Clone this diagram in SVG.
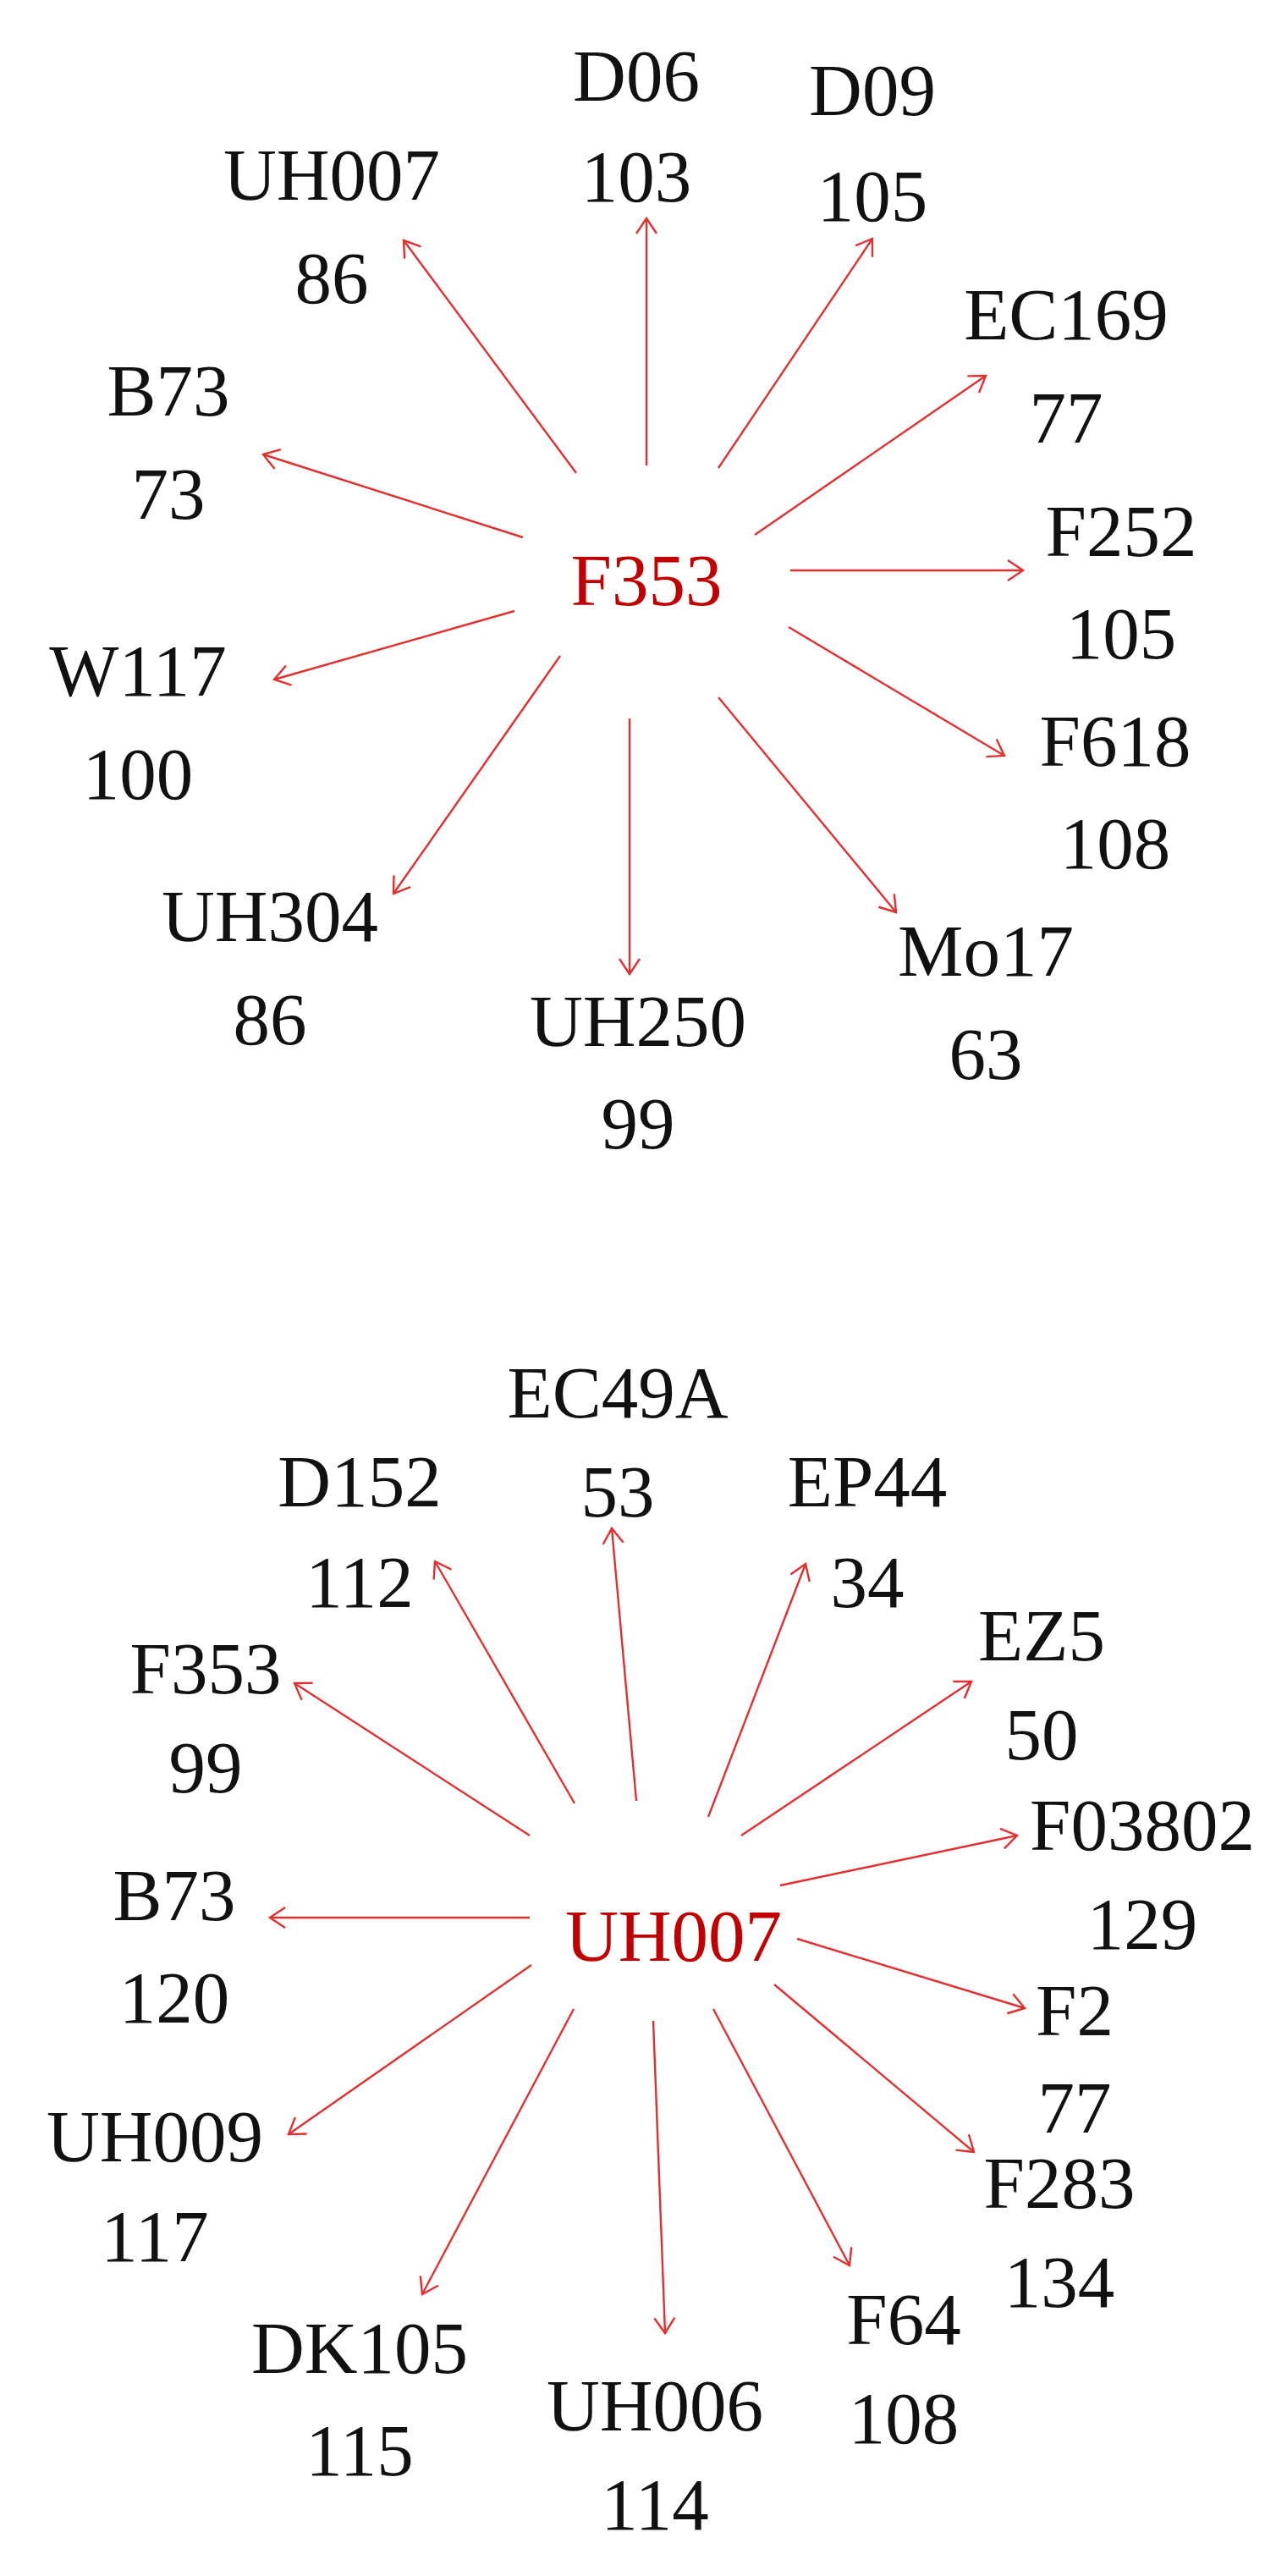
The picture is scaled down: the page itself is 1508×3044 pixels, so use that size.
<svg xmlns="http://www.w3.org/2000/svg" width="1508" height="3044" viewBox="0 0 1508 3044">
<style>
text{font-family:"Liberation Serif",serif;font-size:87px;text-anchor:middle;fill:#111}
text.c{fill:#c00000}
.e line{stroke:#e03030;stroke-width:2.4;marker-end:url(#a)}
</style>
<defs><marker id="a" markerUnits="userSpaceOnUse" markerWidth="40" markerHeight="40" refX="20" refY="20" orient="auto"><path d="M2,8 L20,20 L2,32" fill="none" stroke="#e03030" stroke-width="2.4"/></marker></defs>
<rect width="1508" height="3044" fill="#fff"/>
<g class="e" id="connectors">
<line x1="681" y1="559" x2="477" y2="284"/>
<line x1="764" y1="550" x2="764" y2="258"/>
<line x1="849" y1="553" x2="1031" y2="282"/>
<line x1="892" y1="632" x2="1165" y2="444"/>
<line x1="618" y1="635" x2="311" y2="537"/>
<line x1="934" y1="674" x2="1209" y2="674"/>
<line x1="608" y1="722" x2="324" y2="803"/>
<line x1="932" y1="741" x2="1187" y2="893"/>
<line x1="662" y1="775" x2="465" y2="1056"/>
<line x1="744" y1="849" x2="744" y2="1151"/>
<line x1="849" y1="824" x2="1059" y2="1078"/>
<line x1="679" y1="2131" x2="514" y2="1845"/>
<line x1="752" y1="2128" x2="723" y2="1806"/>
<line x1="837" y1="2147" x2="952" y2="1848"/>
<line x1="876" y1="2169" x2="1148" y2="1987"/>
<line x1="626" y1="2169" x2="348" y2="1989"/>
<line x1="922" y1="2228" x2="1202" y2="2169"/>
<line x1="626" y1="2266" x2="319" y2="2266"/>
<line x1="942" y1="2291" x2="1211" y2="2373"/>
<line x1="628" y1="2322" x2="341" y2="2522"/>
<line x1="915" y1="2345" x2="1151" y2="2543"/>
<line x1="678" y1="2374" x2="499" y2="2711"/>
<line x1="772" y1="2388" x2="786" y2="2757"/>
<line x1="843" y1="2374" x2="1004" y2="2677"/>
</g>
<g id="F353c"><text class="c" x="764" y="715">F353</text></g>
<g id="D06"><text x="752" y="119">D06</text><text x="752" y="238">103</text></g>
<g id="D09"><text x="1031" y="136">D09</text><text x="1031" y="261">105</text></g>
<g id="UH007a"><text x="392" y="236">UH007</text><text x="392" y="358">86</text></g>
<g id="EC169"><text x="1260" y="401">EC169</text><text x="1260" y="523">77</text></g>
<g id="B73a"><text x="199" y="491">B73</text><text x="199" y="613">73</text></g>
<g id="F252"><text x="1325" y="657">F252</text><text x="1325" y="778">105</text></g>
<g id="W117"><text x="163" y="822">W117</text><text x="163" y="944">100</text></g>
<g id="F618"><text x="1318" y="905">F618</text><text x="1318" y="1026">108</text></g>
<g id="UH304"><text x="319" y="1112">UH304</text><text x="319" y="1234">86</text></g>
<g id="UH250"><text x="754" y="1236">UH250</text><text x="754" y="1357">99</text></g>
<g id="Mo17"><text x="1165" y="1153">Mo17</text><text x="1165" y="1275">63</text></g>
<g id="UH007c"><text class="c" x="796" y="2317">UH007</text></g>
<g id="EC49A"><text x="730" y="1675">EC49A</text><text x="730" y="1792">53</text></g>
<g id="D152"><text x="425" y="1780">D152</text><text x="425" y="1899">112</text></g>
<g id="EP44"><text x="1025" y="1780">EP44</text><text x="1025" y="1899">34</text></g>
<g id="EZ5"><text x="1231" y="1962">EZ5</text><text x="1231" y="2079">50</text></g>
<g id="F353b"><text x="243" y="2001">F353</text><text x="243" y="2118">99</text></g>
<g id="F03802"><text x="1350" y="2186">F03802</text><text x="1350" y="2303">129</text></g>
<g id="B73b"><text x="206" y="2269">B73</text><text x="206" y="2390">120</text></g>
<g id="F2"><text x="1270" y="2405">F2</text><text x="1270" y="2520">77</text></g>
<g id="UH009"><text x="183" y="2554">UH009</text><text x="183" y="2672">117</text></g>
<g id="F283"><text x="1252" y="2609">F283</text><text x="1252" y="2726">134</text></g>
<g id="F64"><text x="1068" y="2770">F64</text><text x="1068" y="2887">108</text></g>
<g id="DK105"><text x="425" y="2804">DK105</text><text x="425" y="2925">115</text></g>
<g id="UH006"><text x="774" y="2872">UH006</text><text x="774" y="2989">114</text></g>
</svg>
